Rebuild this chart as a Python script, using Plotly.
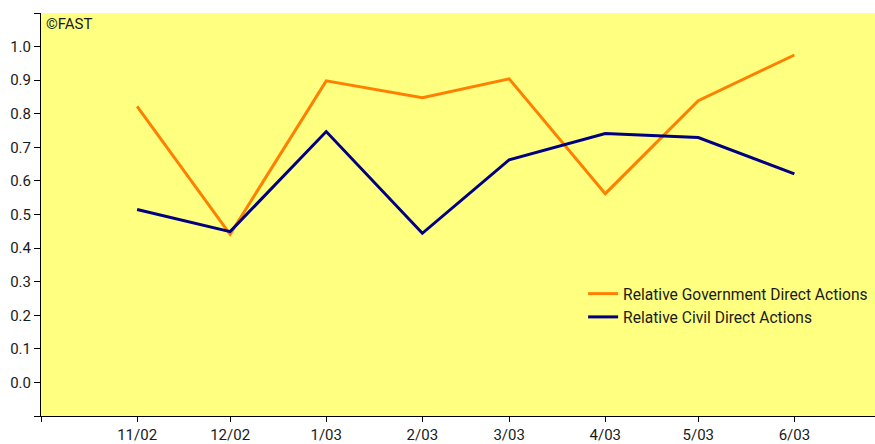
import plotly.graph_objects as go

# Monthly observations (first day of each month) and their axis labels
month_dates = ["2002-11-01", "2002-12-01", "2003-01-01", "2003-02-01",
               "2003-03-01", "2003-04-01", "2003-05-01", "2003-06-01"]
month_labels = ["11/02", "12/02", "1/03", "2/03", "3/03", "4/03", "5/03", "6/03"]

government = [0.822, 0.441, 0.898, 0.848, 0.904, 0.562, 0.839, 0.975]
civil = [0.515, 0.449, 0.747, 0.444, 0.663, 0.741, 0.729, 0.621]

# y ticks run one step beyond the labelled range on both ends
y_tick_values = [-0.1, 0.0, 0.1, 0.2, 0.3, 0.4, 0.5, 0.6, 0.7, 0.8, 0.9, 1.0, 1.1]
y_tick_labels = ["", "0.0", "0.1", "0.2", "0.3", "0.4", "0.5", "0.6", "0.7",
                 "0.8", "0.9", "1.0", ""]

FONT = "Roboto, Arial, sans-serif"
TEXT = "#1a1a1a"

fig = go.Figure()
fig.add_trace(go.Scatter(
    x=month_dates, y=government, mode="lines",
    name="Relative Government Direct Actions",
    line=dict(color="#FF8000", width=3),
))
fig.add_trace(go.Scatter(
    x=month_dates, y=civil, mode="lines",
    name="Relative Civil Direct Actions",
    line=dict(color="#000080", width=3),
))

fig.update_layout(
    width=875, height=444,
    margin=dict(l=41, r=0, t=13, b=25),
    paper_bgcolor="white",
    plot_bgcolor="#FFFF80",
    font=dict(family=FONT, size=15, color=TEXT),
    showlegend=True,
    legend=dict(
        x=0.650, y=0.345, xanchor="left", yanchor="top",
        bgcolor="rgba(0,0,0,0)", borderwidth=0,
        font=dict(family=FONT, size=15.6, color=TEXT),
        tracegroupgap=0,
    ),
    xaxis=dict(
        type="date",
        range=["2002-10-01", "2003-06-27"],
        tickvals=["2002-10-01"] + month_dates,
        ticktext=[""] + month_labels,
        ticks="outside", ticklen=5, tickwidth=1, tickcolor="#000",
        showline=True, linecolor="#000", linewidth=1,
        showgrid=False, zeroline=False,
        tickfont=dict(family=FONT, size=15, color=TEXT),
    ),
    yaxis=dict(
        range=[-0.1, 1.1],
        tickvals=y_tick_values,
        ticktext=y_tick_labels,
        ticks="outside", ticklen=6, tickwidth=1, tickcolor="#000",
        showline=True, linecolor="#000", linewidth=1,
        showgrid=False, zeroline=False,
        tickfont=dict(family=FONT, size=15, color=TEXT),
    ),
    annotations=[dict(
        text="©FAST", xref="paper", yref="paper", x=0.004, y=1.0,
        xanchor="left", yanchor="top", showarrow=False,
        font=dict(family=FONT, size=15, color=TEXT),
    )],
)

fig.write_html("out.html")
